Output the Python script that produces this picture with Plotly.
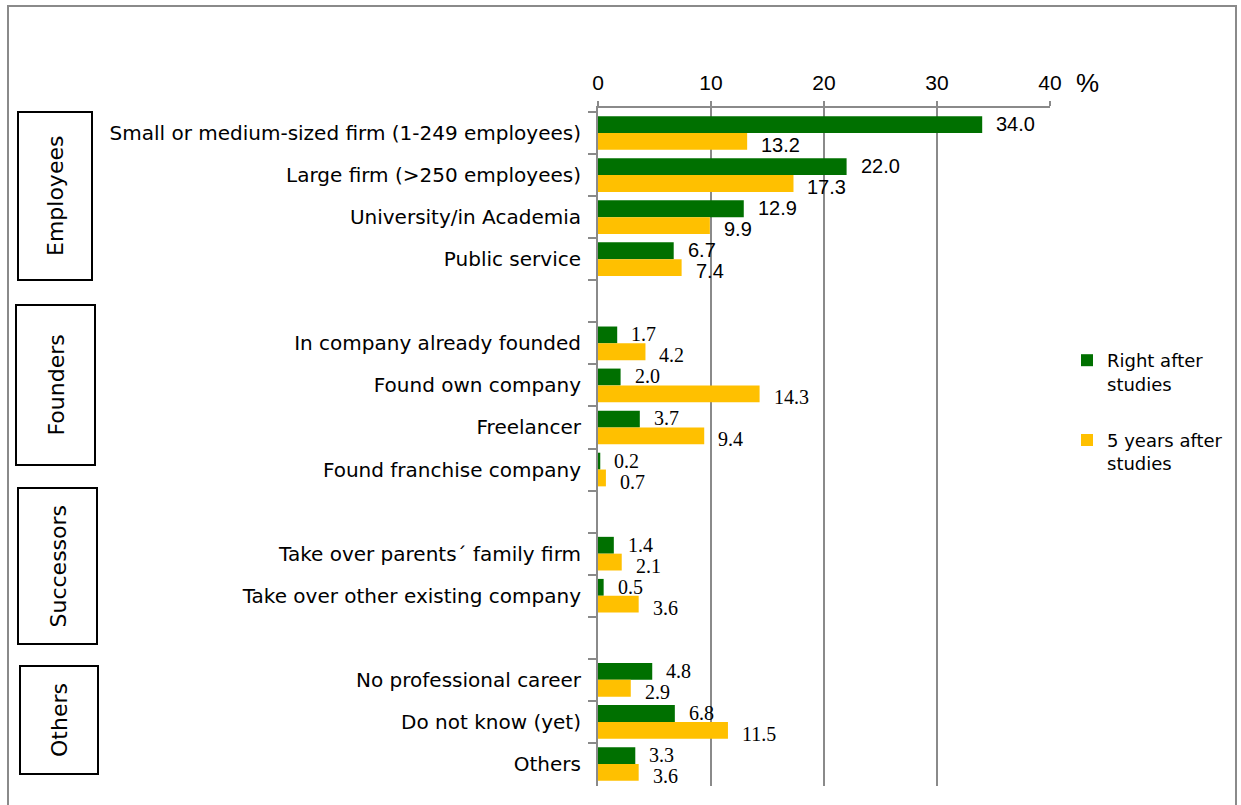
import plotly.graph_objects as go

# ---- data -----------------------------------------------------------------
categories = [
    "Small or medium-sized firm (1-249 employees)",
    "Large firm (>250 employees)",
    "University/in Academia",
    "Public service",
    " ",
    "In company already founded",
    "Found own company",
    "Freelancer",
    "Found franchise company",
    "  ",
    "Take over parents\u00b4 family firm",
    "Take over other existing company",
    "   ",
    "No professional career",
    "Do not know (yet)",
    "Others",
]
row_group = (["Employees"] * 4 + [None] + ["Founders"] * 4 + [None]
             + ["Successors"] * 2 + [None] + ["Others"] * 3)
right_after = [34.0, 22.0, 12.9, 6.7, None, 1.7, 2.0, 3.7, 0.2, None,
               1.4, 0.5, None, 4.8, 6.8, 3.3]
five_years = [13.2, 17.3, 9.9, 7.4, None, 4.2, 14.3, 9.4, 0.7, None,
              2.1, 3.6, None, 2.9, 11.5, 3.6]
group_names = ["Employees", "Founders", "Successors", "Others"]
x_ticks = [0, 10, 20, 30, 40]
series_names = ["Right after<br>studies", "5 years after<br>studies"]

# ---- page geometry (pixels) ----------------------------------------------
W, H = 1241, 805
ML, MR, MT, MB = 598, 191, 108, 19
PW, PH = W - ML - MR, H - MT - MB


def px_x(px):
    return (px - ML) / PW


def px_y(py):
    return (H - MB - py) / PH


GREEN = "#007000"
GOLD = "#FFC000"
GRID = "#8a8a8a"
SANS = "DejaVu Sans"
ARIAL = "Liberation Sans"
SERIF = "Liberation Serif"

fig = go.Figure()
for name, vals, color, grp in [(series_names[0], right_after, GREEN, "a"),
                               (series_names[1], five_years, GOLD, "b")]:
    fig.add_trace(go.Bar(
        y=categories, x=vals, orientation="h", name=name,
        marker=dict(color=color, line=dict(width=0)),
        legendgroup=grp, hoverinfo="x+y",
    ))

annotations = []
# value labels next to the bar ends
for vals, yshift in [(right_after, 9), (five_years, -12)]:
    for cat, grp, v in zip(categories, row_group, vals):
        if v is None:
            continue
        fam = ARIAL if grp == "Employees" else SERIF
        annotations.append(dict(
            x=v, y=cat, xref="x", yref="y", text=f"{v:.1f}",
            showarrow=False, xanchor="left", yanchor="middle",
            xshift=12, yshift=yshift,
            font=dict(family=fam, size=20, color="black"),
        ))

# unit label beside the top axis
annotations.append(dict(
    x=px_x(1087), y=px_y(83), xref="paper", yref="paper", text="%",
    showarrow=False, xanchor="center", yanchor="middle",
    font=dict(family=ARIAL, size=26, color="black"),
))

# boxed group captions on the left
group_boxes = [(18, 112, 92, 280), (16, 305, 95, 465),
               (18, 488, 97, 644), (20, 666, 98, 774)]
shapes = []
for name, (x0, y0, x1, y1) in zip(group_names, group_boxes):
    shapes.append(dict(type="rect", xref="paper", yref="paper",
                       x0=px_x(x0), x1=px_x(x1), y0=px_y(y1), y1=px_y(y0),
                       line=dict(color="black", width=2)))
    annotations.append(dict(
        x=px_x((x0 + x1) / 2), y=px_y((y0 + y1) / 2),
        xref="paper", yref="paper", text=name, textangle=-90,
        showarrow=False, xanchor="center", yanchor="middle",
        font=dict(family=SANS, size=22, color="black"),
    ))

# outer frame
shapes.append(dict(type="rect", xref="paper", yref="paper",
                   x0=px_x(8), x1=px_x(1236), y0=px_y(815), y1=px_y(6),
                   line=dict(color=GRID, width=2), layer="below"))

fig.update_layout(
    width=W, height=H,
    margin=dict(l=ML, r=MR, t=MT, b=MB, autoexpand=False),
    paper_bgcolor="white", plot_bgcolor="white",
    barmode="group", bargap=0.2, bargroupgap=0,
    showlegend=True,
    legend=dict(x=px_x(1067), y=px_y(342), xanchor="left", yanchor="top",
                font=dict(family=SANS, size=18, color="black"),
                tracegroupgap=30, valign="top",
                bgcolor="rgba(0,0,0,0)"),
    xaxis=dict(side="top", range=[0, 40], tickvals=x_ticks,
               showgrid=True, gridcolor=GRID, gridwidth=2,
               showline=True, linecolor=GRID, linewidth=2,
               ticks="outside", ticklen=5, tickwidth=2, tickcolor=GRID,
               zeroline=False, ticklabelstandoff=3,
               tickfont=dict(family=ARIAL, size=21, color="black")),
    yaxis=dict(type="category", categoryorder="array",
               categoryarray=categories, autorange="reversed",
               tickson="boundaries", ticks="outside", ticklen=8,
               tickwidth=2, tickcolor=GRID,
               showline=True, linecolor=GRID, linewidth=2,
               showgrid=False, zeroline=False, ticklabelstandoff=11,
               tickfont=dict(family=SANS, size=20, color="black")),
    annotations=annotations,
    shapes=shapes,
)

fig.write_html("out.html")
